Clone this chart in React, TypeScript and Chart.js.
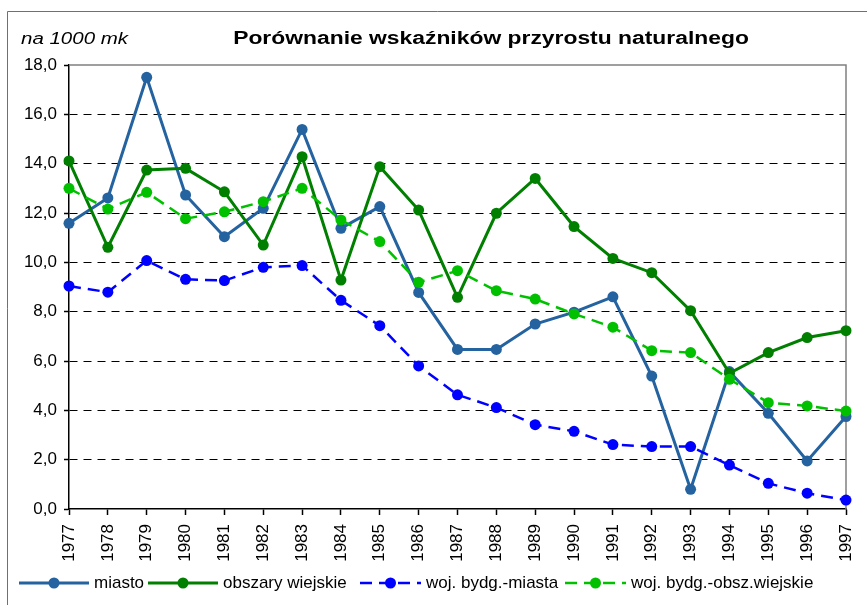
import { useEffect, useRef } from "react";
import { Chart, registerables } from "chart.js";

Chart.register(...registerables);

const years = ["1977", "1978", "1979", "1980", "1981", "1982", "1983", "1984", "1985", "1986", "1987", "1988", "1989", "1990", "1991", "1992", "1993", "1994", "1995", "1996", "1997"];
const miasto = [11.58, 12.61, 17.5, 12.73, 11.04, 12.19, 15.39, 11.38, 12.26, 8.78, 6.47, 6.47, 7.5, 7.98, 8.6, 5.39, 0.8, 5.57, 3.88, 1.95, 3.75];
const obszaryWiejskie = [14.11, 10.61, 13.74, 13.81, 12.86, 10.7, 14.28, 9.28, 13.88, 12.12, 8.58, 11.99, 13.4, 11.45, 10.16, 9.58, 8.04, 5.5, 6.34, 6.95, 7.23];
const wojMiasta = [9.04, 8.79, 10.07, 9.31, 9.26, 9.8, 9.87, 8.46, 7.43, 5.8, 4.63, 4.11, 3.42, 3.15, 2.61, 2.53, 2.53, 1.78, 1.04, 0.64, 0.36];
const wojObszWiejskie = [13.0, 12.16, 12.84, 11.77, 12.05, 12.46, 13.0, 11.72, 10.84, 9.19, 9.66, 8.85, 8.51, 7.91, 7.37, 6.42, 6.34, 5.26, 4.31, 4.18, 3.97];
const seriesNames = ["miasto", "obszary wiejskie", "woj. bydg.-miasta", "woj. bydg.-obsz.wiejskie"];
const yMin = 0;
const yMax = 18;
const yStep = 2;
const titleText = "Porównanie wskaźników przyrostu naturalnego";
const unitText = "na 1000 mk";

const COLORS = ["#2462A0", "#007F00", "#0000FF", "#00C000"];
const DASHES: number[][] = [[], [], [12, 7], [12, 7]];
const WIDTHS = [3, 3, 2.5, 2.5];
const FONT = '"Liberation Sans", Arial, sans-serif';

const decorPlugin = {
  id: "decor",
  beforeDraw(chart: any) {
    const ctx = chart.ctx;
    ctx.save();
    ctx.fillStyle = "#ffffff";
    ctx.fillRect(0, 0, chart.width, chart.height);
    ctx.strokeStyle = "#707070";
    ctx.lineWidth = 1;
    ctx.beginPath();
    ctx.moveTo(7.5, chart.height);
    ctx.lineTo(7.5, 11.5);
    ctx.lineTo(chart.width, 11.5);
    ctx.stroke();
    ctx.restore();
  },
  beforeDatasetsDraw(chart: any) {
    const ctx = chart.ctx;
    const a = chart.chartArea;
    ctx.save();
    ctx.strokeStyle = "#808080";
    ctx.lineWidth = 1.5;
    ctx.beginPath();
    ctx.moveTo(a.left, a.top);
    ctx.lineTo(a.right, a.top);
    ctx.lineTo(a.right, a.bottom);
    ctx.stroke();
    ctx.restore();
  },
  afterDraw(chart: any) {
    const ctx = chart.ctx;
    ctx.save();
    ctx.fillStyle = "#000";
    ctx.textBaseline = "alphabetic";
    ctx.save();
    ctx.translate(21, 44);
    ctx.scale(1.28, 1);
    ctx.font = "italic 16px " + FONT;
    ctx.textAlign = "left";
    ctx.fillText(unitText, 0, 0);
    ctx.restore();
    ctx.save();
    ctx.translate(491, 44);
    ctx.scale(1.27, 1);
    ctx.font = "bold 18px " + FONT;
    ctx.textAlign = "center";
    ctx.fillText(titleText, 0, 0);
    ctx.restore();
    const starts = [19, 148, 360, 565];
    const lens = [70, 70, 61, 61];
    const ly = 583;
    ctx.font = "17px " + FONT;
    ctx.textAlign = "left";
    for (let i = 0; i < seriesNames.length; i++) {
      const x0 = starts[i];
      const len = lens[i];
      ctx.strokeStyle = COLORS[i];
      ctx.lineWidth = WIDTHS[i];
      ctx.setLineDash(DASHES[i]);
      ctx.beginPath();
      ctx.moveTo(x0, ly);
      ctx.lineTo(x0 + len, ly);
      ctx.stroke();
      ctx.setLineDash([]);
      ctx.fillStyle = COLORS[i];
      ctx.beginPath();
      ctx.arc(x0 + len / 2, ly, 5.5, 0, Math.PI * 2);
      ctx.fill();
      ctx.fillStyle = "#000";
      ctx.fillText(seriesNames[i], x0 + len + 5, 588);
    }
    ctx.restore();
  },
};

export default function App() {
  const ref = useRef<HTMLCanvasElement>(null);
  useEffect(() => {
    if (!ref.current) return;
    const seriesData = [miasto, obszaryWiejskie, wojMiasta, wojObszWiejskie];
    const chart = new Chart(ref.current, {
      type: "line",
      data: {
        labels: years,
        datasets: seriesData.map((d, i) => ({
          label: seriesNames[i],
          data: d,
          borderColor: COLORS[i],
          backgroundColor: COLORS[i],
          pointBackgroundColor: COLORS[i],
          pointBorderColor: COLORS[i],
          pointBorderWidth: 0,
          pointRadius: 5.5,
          borderWidth: WIDTHS[i],
          borderDash: DASHES[i],
          tension: 0,
          fill: false,
          clip: false,
          order: 4 - i,
        })),
      },
      options: {
        responsive: false,
        devicePixelRatio: 1,
        animation: false,
        layout: { padding: { left: 0, top: 65, right: 21, bottom: 0 } },
        plugins: {
          legend: { display: false },
          title: { display: false },
          tooltip: { enabled: false },
        },
        scales: {
          x: {
            type: "category",
            offset: false,
            grid: {
              display: true,
              drawOnChartArea: false,
              drawTicks: true,
              tickLength: 6,
              tickColor: "#000",
              tickWidth: 1.5,
            },
            border: { display: true, color: "#000", width: 1.5 },
            ticks: {
              color: "#000",
              font: { family: FONT, size: 17 },
              minRotation: 90,
              maxRotation: 90,
              autoSkip: false,
              padding: 9,
            },
            afterFit: (s: any) => {
              s.height = 96;
              s.paddingLeft = 0;
              s.paddingRight = 0;
            },
          },
          y: {
            min: yMin,
            max: yMax,
            grid: {
              display: true,
              color: (c: any) => (c.tick && (c.tick.value === yMin || c.tick.value === yMax) ? "rgba(0,0,0,0)" : "#000"),
              lineWidth: 1,
              drawTicks: true,
              tickLength: 5,
              tickColor: "#000",
              tickWidth: 1.5,
              tickBorderDash: [],
            },
            border: { display: true, color: "#000", width: 1.5, dash: [8, 6] },
            ticks: {
              stepSize: yStep,
              color: "#000",
              font: { family: FONT, size: 17 },
              padding: 7,
              callback: (v: any) => Number(v).toFixed(1).replace(".", ","),
            },
            afterFit: (s: any) => {
              s.width = 69;
              s.paddingTop = 0;
              s.paddingBottom = 0;
            },
          },
        },
      },
      plugins: [decorPlugin],
    });
    return () => chart.destroy();
  }, []);
  return (
    <div style={{ position: "absolute", left: 0, top: 0, width: 867, height: 605, background: "#fff" }}>
      <canvas ref={ref} width={867} height={605} style={{ display: "block" }} />
    </div>
  );
}
